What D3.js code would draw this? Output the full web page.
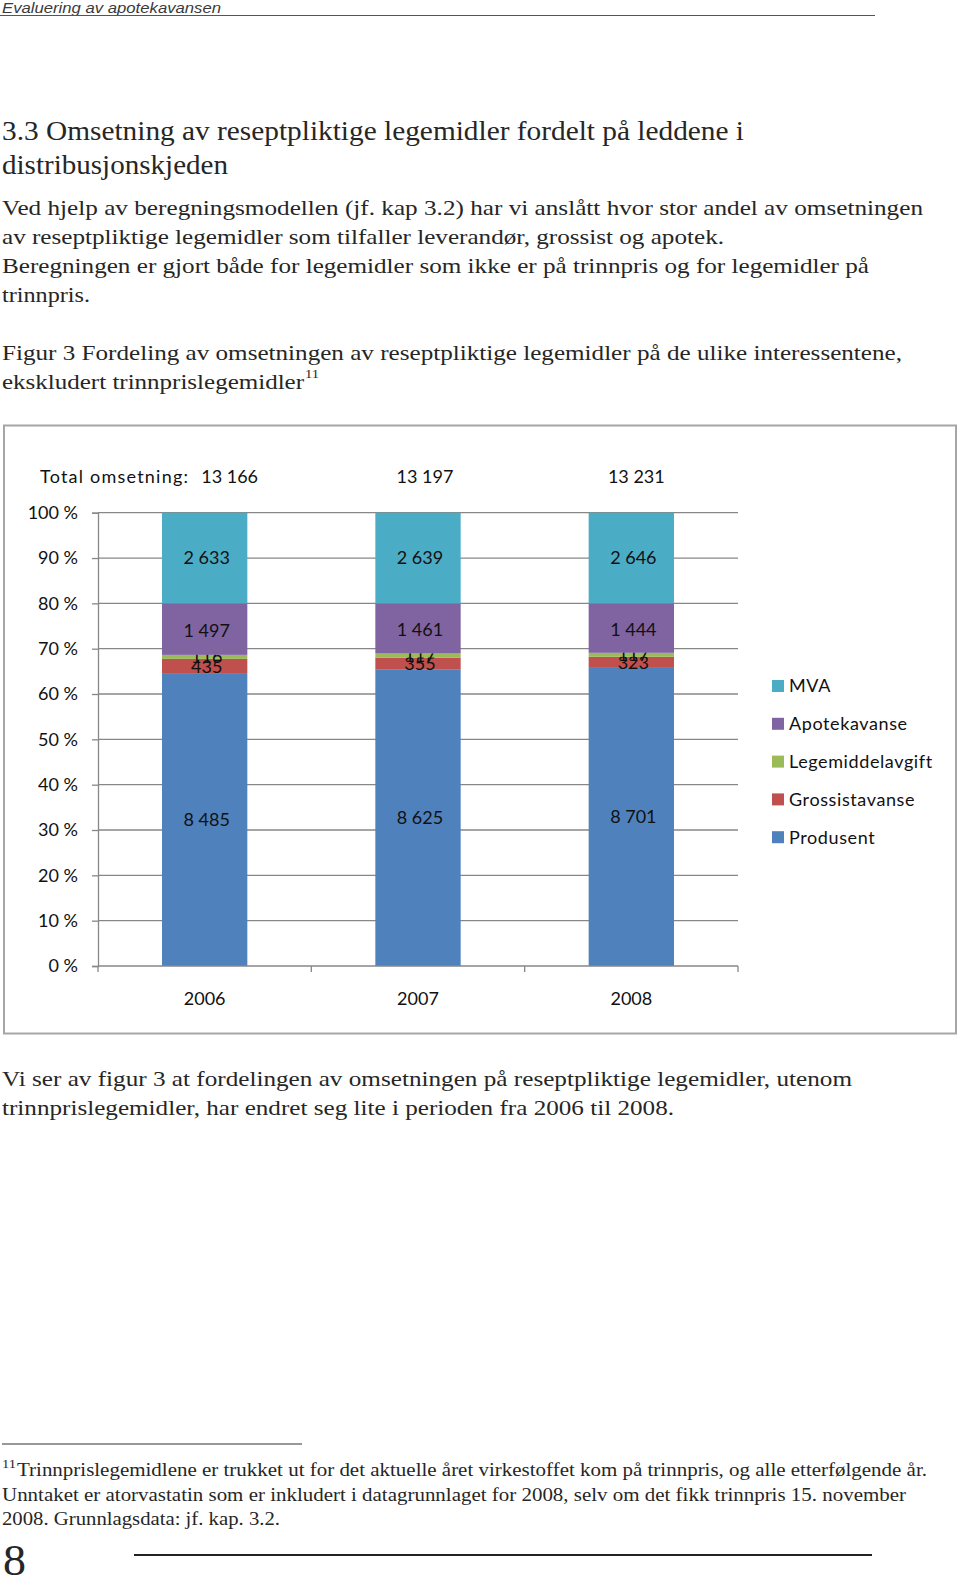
<!DOCTYPE html>
<html>
<head>
<meta charset="utf-8">
<script src="https://cdn.jsdelivr.net/npm/d3@7"></script>
<style>
  html, body { margin: 0; padding: 0; background: #fff; }
  svg { display: block; }
</style>
</head>
<body>
<svg id="page" width="960" height="1581"></svg>
<script>
// ---------- DATA ----------
const categories = ["2006", "2007", "2008"];
const produsent = [8485, 8625, 8701];
const grossistavanse = [435, 355, 323];
const legemiddelavgift = [116, 117, 117];
const apotekavanse = [1497, 1461, 1444];
const mva = [2633, 2639, 2646];
const seriesNames = ["Produsent", "Grossistavanse", "Legemiddelavgift", "Apotekavanse", "MVA"];
const seriesColors = ["#4F81BD", "#C0504D", "#9BBB59", "#8064A2", "#4BACC6"];
const yTickValues = [0, 0.1, 0.2, 0.3, 0.4, 0.5, 0.6, 0.7, 0.8, 0.9, 1.0];
const totalLabel = "Total omsetning:";

// ---------- PAGE ----------
const svg = d3.select("#page");
svg.append("rect").attr("width", 960).attr("height", 1581).attr("fill", "#fff");

const serif = "'Liberation Serif', 'Times New Roman', Times, serif";
const textColor = "#262626";

function addText(x, y, str, size, family, width, opts = {}) {
  const t = svg.append("text")
    .attr("x", x).attr("y", y)
    .attr("font-family", family)
    .attr("font-size", size)
    .attr("fill", opts.fill || textColor)
    .text(str);
  if (opts.italic) t.attr("font-style", "italic");
  if (width) {
    const natural = t.node().getComputedTextLength();
    if (natural > 0 && str.length > 12) {
      const ratio = Math.max(0.9, Math.min(1, width / natural));
      t.attr("font-size", size * ratio);
    }
    t.attr("textLength", width).attr("lengthAdjust", "spacingAndGlyphs");
  }
  return t;
}

// header
addText(2, 13, "Evaluering av apotekavansen", 15, "'Liberation Sans', Arial, sans-serif", 219, { italic: true, fill: "#3a3a3a" });
svg.append("line").attr("x1", 0).attr("x2", 875).attr("y1", 15.5).attr("y2", 15.5)
  .attr("stroke", "#555").attr("stroke-width", 1);

// heading
addText(2, 140, "3.3 Omsetning av reseptpliktige legemidler fordelt på leddene i", 26.5, serif, 742);
addText(2, 174, "distribusjonskjeden", 26.5, serif, 226);

// paragraph
const paraLines = [
  ["Ved hjelp av beregningsmodellen (jf. kap 3.2) har vi anslått hvor stor andel av omsetningen", 215, 921],
  ["av reseptpliktige legemidler som tilfaller leverandør, grossist og apotek.", 244, 722],
  ["Beregningen er gjort både for legemidler som ikke er på trinnpris og for legemidler på", 273, 867],
  ["trinnpris.", 302, 88],
  ["Figur 3 Fordeling av omsetningen av reseptpliktige legemidler på de ulike interessentene,", 360, 900],
  ["ekskludert trinnprislegemidler", 389, 302]
];
paraLines.forEach(([s, y, w]) => addText(2, y, s, 22, serif, w));
addText(305, 378, "11", 13, serif, 14);

// bottom paragraph
addText(2, 1086, "Vi ser av figur 3 at fordelingen av omsetningen på reseptpliktige legemidler, utenom", 22, serif, 850);
addText(2, 1115, "trinnprislegemidler, har endret seg lite i perioden fra 2006 til 2008.", 22, serif, 672);

// footnote
svg.append("line").attr("x1", 2).attr("x2", 302).attr("y1", 1444).attr("y2", 1444)
  .attr("stroke", "#333").attr("stroke-width", 1);
addText(2, 1468, "11", 12, serif, 14);
addText(17, 1476, "Trinnprislegemidlene er trukket ut for det aktuelle året virkestoffet kom på trinnpris, og alle etterfølgende år.", 18.5, serif, 910);
addText(2, 1501, "Unntaket er atorvastatin som er inkludert i datagrunnlaget for 2008, selv om det fikk trinnpris 15. november", 18.5, serif, 904);
addText(2, 1525, "2008. Grunnlagsdata: jf. kap. 3.2.", 18.5, serif, 278);
addText(3, 1575, "8", 44, serif, 23);
svg.append("line").attr("x1", 134).attr("x2", 872).attr("y1", 1555).attr("y2", 1555)
  .attr("stroke", "#222").attr("stroke-width", 2);

// ---------- CHART ----------
const chartFont = "Lato, 'Open Sans', sans-serif";
const chartFontSize = 18;

// chart frame
svg.append("rect").attr("x", 4).attr("y", 425.5).attr("width", 952).attr("height", 608)
  .attr("fill", "#fff").attr("stroke", "#a6a6a6").attr("stroke-width", 2);

const rows = categories.map((c, i) => ({
  cat: c,
  Produsent: produsent[i],
  Grossistavanse: grossistavanse[i],
  Legemiddelavgift: legemiddelavgift[i],
  Apotekavanse: apotekavanse[i],
  MVA: mva[i]
}));

const x = d3.scaleBand().domain(categories).range([98, 738]).paddingInner(0.6).paddingOuter(0.3);
const y = d3.scaleLinear().domain([0, 1]).range([966, 512.7]);
const color = d3.scaleOrdinal().domain(seriesNames).range(seriesColors);

const stack = d3.stack().keys(seriesNames).offset(d3.stackOffsetExpand);
const stacked = stack(rows);

const locale = d3.formatLocale({ decimal: ",", thousands: "\u00a0", grouping: [3], currency: ["", " kr"] });
const fmtNum = locale.format(",d");
const fmtPct = v => Math.round(v * 100) + " %";

const g = svg.append("g");

// gridlines
g.append("g").selectAll("line").data(yTickValues.filter(v => v > 0)).join("line")
  .attr("x1", x.range()[0]).attr("x2", x.range()[1])
  .attr("y1", d => y(d)).attr("y2", d => y(d))
  .attr("stroke", "#878787").attr("stroke-width", 1.3);

// y axis
const yAxis = d3.axisLeft(y).tickValues(yTickValues).tickFormat(fmtPct).tickSize(6).tickPadding(14);
const yAxisG = g.append("g").attr("transform", `translate(${x.range()[0]},0)`).call(yAxis);
yAxisG.select(".domain").attr("stroke", "#878787").attr("stroke-width", 1.3);
yAxisG.selectAll(".tick line").attr("stroke", "#878787").attr("stroke-width", 1.3);
yAxisG.selectAll(".tick text").attr("font-family", chartFont).attr("font-size", chartFontSize).attr("fill", "#111");

// bars
const layer = g.append("g").selectAll("g").data(stacked).join("g")
  .attr("fill", d => color(d.key));
layer.selectAll("rect").data(d => d).join("rect")
  .attr("x", d => x(d.data.cat))
  .attr("width", x.bandwidth())
  .attr("y", d => y(d[1]))
  .attr("height", d => y(d[0]) - y(d[1]));

// x axis
const step = x.step();
const boundaries = d3.range(categories.length + 1).map(i => x.range()[0] + i * step);
const xAxisG = g.append("g");
xAxisG.append("line").attr("x1", x.range()[0]).attr("x2", x.range()[1])
  .attr("y1", y(0)).attr("y2", y(0)).attr("stroke", "#878787").attr("stroke-width", 1.3);
xAxisG.selectAll("line.tk").data(boundaries).join("line").attr("class", "tk")
  .attr("x1", d => d).attr("x2", d => d).attr("y1", y(0)).attr("y2", y(0) + 6)
  .attr("stroke", "#878787").attr("stroke-width", 1.3);
xAxisG.selectAll("text").data(categories).join("text")
  .attr("x", d => x(d) + x.bandwidth() / 2)
  .attr("y", y(0) + 33)
  .attr("dy", "0.35em")
  .attr("text-anchor", "middle")
  .attr("font-family", chartFont).attr("font-size", chartFontSize).attr("fill", "#111")
  .text(d => d);

// data labels
layer.each(function (s) {
  d3.select(this).selectAll("text").data(s).join("text")
    .attr("x", d => x(d.data.cat) + x.bandwidth() / 2 + 2)
    .attr("y", d => (y(d[0]) + y(d[1])) / 2 + (s.key === "Apotekavanse" ? 1.5 : 0))
    .attr("dy", "0.35em")
    .attr("text-anchor", "middle")
    .attr("font-family", chartFont).attr("font-size", chartFontSize).attr("fill", "#111")
    .text(d => fmtNum(d.data[s.key]));
});

// totals
const totals = rows.map(r => d3.sum(seriesNames, k => r[k]));
const totalOffsets = [25, 7, 5];
g.append("text").attr("x", 40).attr("y", 483)
  .attr("font-family", chartFont).attr("font-size", chartFontSize).attr("fill", "#111")
  .attr("textLength", 148).attr("lengthAdjust", "spacing")
  .text(totalLabel);
g.selectAll("text.total").data(categories).join("text").attr("class", "total")
  .attr("x", (d, i) => x(d) + x.bandwidth() / 2 + totalOffsets[i])
  .attr("y", 483)
  .attr("text-anchor", "middle")
  .attr("font-family", chartFont).attr("font-size", chartFontSize).attr("fill", "#111")
  .text((d, i) => fmtNum(totals[i]));

// legend
const legendNames = seriesNames.slice().reverse();
const legend = g.append("g").selectAll("g").data(legendNames).join("g")
  .attr("transform", (d, i) => `translate(772, ${686 + i * 37.8})`);
legend.append("rect").attr("x", 0).attr("y", -6).attr("width", 12).attr("height", 12)
  .attr("fill", d => color(d));
legend.append("text").attr("x", 17).attr("y", 0).attr("dy", "0.35em")
  .attr("font-family", chartFont).attr("font-size", chartFontSize).attr("fill", "#111")
  .attr("letter-spacing", 0.6)
  .text(d => d);
</script>
</body>
</html>
